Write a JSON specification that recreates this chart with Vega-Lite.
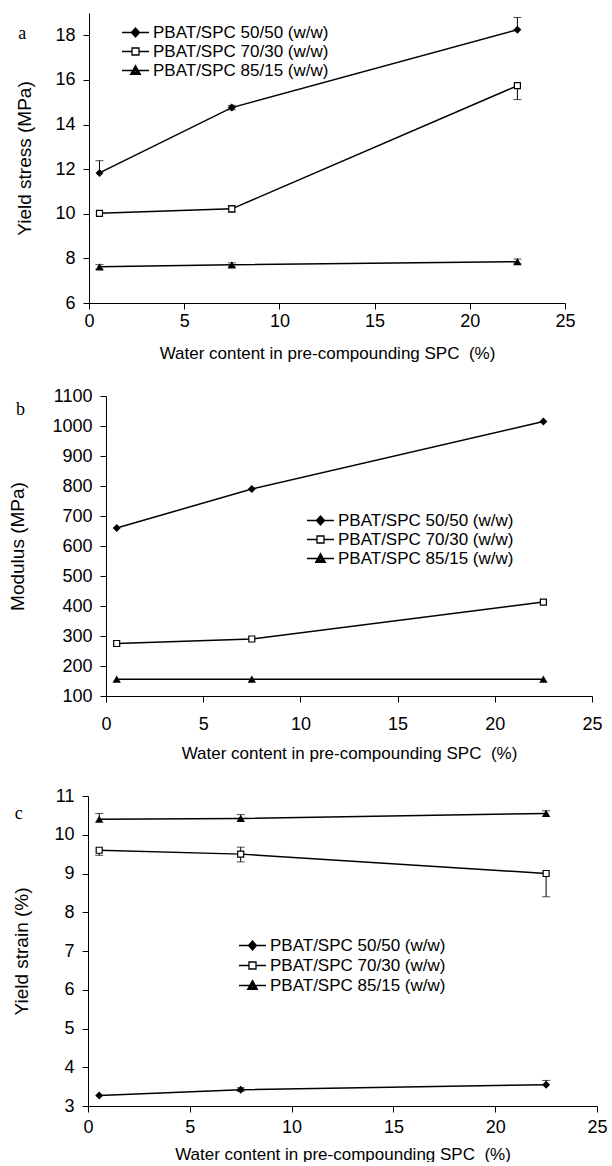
{
  "$schema": "https://vega.github.io/schema/vega-lite/v6.json",
  "padding": {"left": 0, "top": 13, "right": 0, "bottom": 0},
  "background": "white",
  "config": {
    "view": {"stroke": null},
    "font": "Liberation Sans",
    "axis": {
      "grid": false, "domainColor": "black", "tickColor": "black", "labelColor": "black", "titleColor": "black",
      "tickSize": 6, "domainWidth": 1, "tickWidth": 1, "labelFont": "Liberation Sans", "labelFontSize": 18,
      "titleFont": "Liberation Sans", "titleFontWeight": "normal", "labelOverlap": false, "labelFlush": false
    },
    "legend": {
      "orient": "none", "title": null, "padding": 0, "labelFont": "Liberation Sans", "labelFontSize": 17,
      "labelColor": "black", "labelLimit": 0, "symbolSize": 729, "symbolStrokeWidth": 1.3, "symbolOpacity": 1,
      "symbolStrokeColor": "black", "labelOffset": 3, "clipHeight": 17, "rowPadding": 1
    }
  },
  "datasets": {
    "pts": [
      {"panel": "a", "series": "PBAT/SPC 50/50 (w/w)", "x": 0.55, "y": 11.83},
      {"panel": "a", "series": "PBAT/SPC 50/50 (w/w)", "x": 7.5, "y": 14.76},
      {"panel": "a", "series": "PBAT/SPC 50/50 (w/w)", "x": 22.5, "y": 18.25},
      {"panel": "a", "series": "PBAT/SPC 70/30 (w/w)", "x": 0.55, "y": 10.02},
      {"panel": "a", "series": "PBAT/SPC 70/30 (w/w)", "x": 7.5, "y": 10.22},
      {"panel": "a", "series": "PBAT/SPC 70/30 (w/w)", "x": 22.5, "y": 15.74},
      {"panel": "a", "series": "PBAT/SPC 85/15 (w/w)", "x": 0.55, "y": 7.62},
      {"panel": "a", "series": "PBAT/SPC 85/15 (w/w)", "x": 7.5, "y": 7.71},
      {"panel": "a", "series": "PBAT/SPC 85/15 (w/w)", "x": 22.5, "y": 7.85},
      {"panel": "b", "series": "PBAT/SPC 50/50 (w/w)", "x": 0.55, "y": 660},
      {"panel": "b", "series": "PBAT/SPC 50/50 (w/w)", "x": 7.5, "y": 790},
      {"panel": "b", "series": "PBAT/SPC 50/50 (w/w)", "x": 22.5, "y": 1015},
      {"panel": "b", "series": "PBAT/SPC 70/30 (w/w)", "x": 0.55, "y": 275},
      {"panel": "b", "series": "PBAT/SPC 70/30 (w/w)", "x": 7.5, "y": 290},
      {"panel": "b", "series": "PBAT/SPC 70/30 (w/w)", "x": 22.5, "y": 413},
      {"panel": "b", "series": "PBAT/SPC 85/15 (w/w)", "x": 0.55, "y": 156},
      {"panel": "b", "series": "PBAT/SPC 85/15 (w/w)", "x": 7.5, "y": 156},
      {"panel": "b", "series": "PBAT/SPC 85/15 (w/w)", "x": 22.5, "y": 156},
      {"panel": "c", "series": "PBAT/SPC 50/50 (w/w)", "x": 0.55, "y": 3.27},
      {"panel": "c", "series": "PBAT/SPC 50/50 (w/w)", "x": 7.5, "y": 3.42},
      {"panel": "c", "series": "PBAT/SPC 50/50 (w/w)", "x": 22.5, "y": 3.55},
      {"panel": "c", "series": "PBAT/SPC 70/30 (w/w)", "x": 0.55, "y": 9.6},
      {"panel": "c", "series": "PBAT/SPC 70/30 (w/w)", "x": 7.5, "y": 9.5},
      {"panel": "c", "series": "PBAT/SPC 70/30 (w/w)", "x": 22.5, "y": 9.0},
      {"panel": "c", "series": "PBAT/SPC 85/15 (w/w)", "x": 0.55, "y": 10.4},
      {"panel": "c", "series": "PBAT/SPC 85/15 (w/w)", "x": 7.5, "y": 10.42},
      {"panel": "c", "series": "PBAT/SPC 85/15 (w/w)", "x": 22.5, "y": 10.55}
    ],
    "err": [
      {"panel": "a", "x": 0.55, "lo": 11.83, "hi": 12.38, "capLo": false, "capHi": true},
      {"panel": "a", "x": 7.5, "lo": 14.66, "hi": 14.86, "capLo": true, "capHi": true},
      {"panel": "a", "x": 22.5, "lo": 18.25, "hi": 18.8, "capLo": false, "capHi": true},
      {"panel": "a", "x": 7.5, "lo": 10.07, "hi": 10.37, "capLo": true, "capHi": true},
      {"panel": "a", "x": 22.5, "lo": 15.12, "hi": 15.74, "capLo": true, "capHi": false},
      {"panel": "a", "x": 0.55, "lo": 7.52, "hi": 7.72, "capLo": true, "capHi": true},
      {"panel": "a", "x": 7.5, "lo": 7.62, "hi": 7.8, "capLo": true, "capHi": true},
      {"panel": "a", "x": 22.5, "lo": 7.76, "hi": 7.97, "capLo": true, "capHi": true},
      {"panel": "c", "x": 0.55, "lo": 10.4, "hi": 10.55, "capLo": false, "capHi": true},
      {"panel": "c", "x": 7.5, "lo": 10.35, "hi": 10.52, "capLo": false, "capHi": true},
      {"panel": "c", "x": 22.5, "lo": 10.5, "hi": 10.62, "capLo": false, "capHi": true},
      {"panel": "c", "x": 0.55, "lo": 9.47, "hi": 9.6, "capLo": true, "capHi": false},
      {"panel": "c", "x": 7.5, "lo": 9.3, "hi": 9.68, "capLo": true, "capHi": true},
      {"panel": "c", "x": 22.5, "lo": 8.4, "hi": 9.0, "capLo": true, "capHi": false},
      {"panel": "c", "x": 7.5, "lo": 3.38, "hi": 3.47, "capLo": true, "capHi": true},
      {"panel": "c", "x": 22.5, "lo": 3.55, "hi": 3.66, "capLo": false, "capHi": true}
    ],
    "lab": [
      {"panel": "a", "x": -3.5, "y": 18.05, "t": "a"},
      {"panel": "b", "x": -4.4, "y": 1055, "t": "b"},
      {"panel": "c", "x": -3.4, "y": 10.54, "t": "c"}
    ],
    "spacer": [{"k": 1}]
  },
  "spacing": 26,
  "resolve": {"scale": {"shape": "independent"}, "legend": {"shape": "independent"}},
  "vconcat": [
    {
      "spacing": 0,
      "resolve": {"scale": {"shape": "independent"}, "legend": {"shape": "independent"}},
      "hconcat": [
        {"width": 15, "height": 1, "data": {"name": "spacer"}, "mark": {"type": "point", "opacity": 0, "size": 0.5}},
        {
          "width": 476, "height": 290,
          "encoding": {
            "x": {"field": "x", "type": "quantitative", "scale": {"domain": [0, 25], "nice": false},
                  "axis": {"values": [0, 5, 10, 15, 20, 25], "tickCount": 30, "title": "Water content in pre-compounding SPC\u00a0 (%)", "titleFontSize": 17, "labelPadding": 3, "titlePadding": 15, "labelOverlap": false, "labelFlush": false}}
          },
          "layer": [
            {"data": {"name": "err"}, "transform": [{"filter": "datum.panel === 'a'"}], "mark": {"type": "rule", "color": "black", "strokeWidth": 1},
             "encoding": {"y": {"field": "lo", "type": "quantitative", "scale": {"domain": [6, 19], "nice": false}, "axis": {"values": [6, 8, 10, 12, 14, 16, 18], "tickCount": 30, "format": "d", "title": "Yield stress (MPa)", "titleFontSize": 19, "labelPadding": 8, "titlePadding": 20.5, "labelOverlap": false}}, "y2": {"field": "hi"}}},
            {"data": {"name": "err"}, "transform": [{"filter": "datum.panel === 'a' && datum.capLo"}], "mark": {"type": "tick", "orient": "horizontal", "size": 8, "thickness": 1, "color": "black"},
             "encoding": {"y": {"field": "lo", "type": "quantitative"}}},
            {"data": {"name": "err"}, "transform": [{"filter": "datum.panel === 'a' && datum.capHi"}], "mark": {"type": "tick", "orient": "horizontal", "size": 8, "thickness": 1, "color": "black"},
             "encoding": {"y": {"field": "hi", "type": "quantitative"}}},
            {"data": {"name": "pts"}, "transform": [{"filter": "datum.panel === 'a'"}], "mark": {"type": "line", "color": "black", "strokeWidth": 1.5},
             "encoding": {"y": {"field": "y", "type": "quantitative"}, "detail": {"field": "series"}}},
            {"data": {"name": "pts"}, "transform": [{"filter": "datum.panel === 'a' && datum.series === 'PBAT/SPC 50/50 (w/w)'"}], "mark": {"type": "point", "shape": "diamond", "filled": true, "color": "black", "size": 64, "opacity": 1},
             "encoding": {"y": {"field": "y", "type": "quantitative"}}},
            {"data": {"name": "pts"}, "transform": [{"filter": "datum.panel === 'a' && datum.series === 'PBAT/SPC 70/30 (w/w)'"}], "mark": {"type": "point", "shape": "square", "fill": "white", "stroke": "black", "strokeWidth": 1.2, "size": 36, "opacity": 1},
             "encoding": {"y": {"field": "y", "type": "quantitative"}}},
            {"data": {"name": "pts"}, "transform": [{"filter": "datum.panel === 'a' && datum.series === 'PBAT/SPC 85/15 (w/w)'"}], "mark": {"type": "point", "shape": "triangle-up", "filled": true, "color": "black", "size": 70, "opacity": 1},
             "encoding": {"y": {"field": "y", "type": "quantitative"}}},
            {"data": {"name": "pts"}, "transform": [{"filter": "datum.panel === 'a'"}], "mark": {"type": "point", "filled": false, "color": "black", "strokeWidth": 1.3, "opacity": 0},
             "encoding": {"y": {"field": "y", "type": "quantitative"},
               "shape": {"field": "series", "type": "nominal", "scale": {"domain": ["PBAT/SPC 50/50 (w/w)", "PBAT/SPC 70/30 (w/w)", "PBAT/SPC 85/15 (w/w)"],
                 "range": ["M-1,0L1,0M-0.3,0L0,-0.34L0.3,0L0,0.34ZM-0.2,0L0,-0.227L0.2,0L0,0.227ZM-0.1,0L0,-0.113L0.1,0L0,0.113Z", "M-1,0L-0.26,0M0.26,0L1,0M-0.26,-0.26L0.26,-0.26L0.26,0.26L-0.26,0.26Z", "M-1,0L1,0M-0.36,0.29L0,-0.36L0.36,0.29ZM-0.238,0.216L0,-0.213L0.238,0.216ZM-0.119,0.145L0,-0.07L0.119,0.145Z"]},
                 "legend": {"legendX": 32, "legendY": 11}}}},
            {"data": {"name": "lab"}, "transform": [{"filter": "datum.panel === 'a'"}], "mark": {"type": "text", "font": "Liberation Serif", "fontSize": 18, "color": "black", "baseline": "middle", "align": "center"},
             "encoding": {"y": {"field": "y", "type": "quantitative"}, "text": {"field": "t"}}}
          ]
        }
      ]
    },
    {
      "spacing": 0,
      "resolve": {"scale": {"shape": "independent"}, "legend": {"shape": "independent"}},
      "hconcat": [
        {"width": 7.5, "height": 1, "data": {"name": "spacer"}, "mark": {"type": "point", "opacity": 0, "size": 0.5}},
        {
          "width": 486, "height": 300,
          "encoding": {
            "x": {"field": "x", "type": "quantitative", "scale": {"domain": [0, 25], "nice": false},
                  "axis": {"values": [0, 5, 10, 15, 20, 25], "tickCount": 30, "title": "Water content in pre-compounding SPC\u00a0 (%)", "titleFontSize": 17, "labelPadding": 13, "titlePadding": 12, "labelOverlap": false, "labelFlush": false}}
          },
          "layer": [
            {"data": {"name": "pts"}, "transform": [{"filter": "datum.panel === 'b'"}], "mark": {"type": "line", "color": "black", "strokeWidth": 1.5},
             "encoding": {"y": {"field": "y", "type": "quantitative", "scale": {"domain": [100, 1100], "nice": false}, "axis": {"values": [100, 200, 300, 400, 500, 600, 700, 800, 900, 1000, 1100], "tickCount": 30, "format": "d", "title": "Modulus (MPa)", "titleFontSize": 19, "labelPadding": 8, "titlePadding": 24.5, "labelOverlap": false}}, "detail": {"field": "series"}}},
            {"data": {"name": "pts"}, "transform": [{"filter": "datum.panel === 'b' && datum.series === 'PBAT/SPC 50/50 (w/w)'"}], "mark": {"type": "point", "shape": "diamond", "filled": true, "color": "black", "size": 64, "opacity": 1},
             "encoding": {"y": {"field": "y", "type": "quantitative"}}},
            {"data": {"name": "pts"}, "transform": [{"filter": "datum.panel === 'b' && datum.series === 'PBAT/SPC 70/30 (w/w)'"}], "mark": {"type": "point", "shape": "square", "fill": "white", "stroke": "black", "strokeWidth": 1.2, "size": 36, "opacity": 1},
             "encoding": {"y": {"field": "y", "type": "quantitative"}}},
            {"data": {"name": "pts"}, "transform": [{"filter": "datum.panel === 'b' && datum.series === 'PBAT/SPC 85/15 (w/w)'"}], "mark": {"type": "point", "shape": "triangle-up", "filled": true, "color": "black", "size": 70, "opacity": 1},
             "encoding": {"y": {"field": "y", "type": "quantitative"}}},
            {"data": {"name": "pts"}, "transform": [{"filter": "datum.panel === 'b'"}], "mark": {"type": "point", "filled": false, "color": "black", "strokeWidth": 1.3, "opacity": 0},
             "encoding": {"y": {"field": "y", "type": "quantitative"},
               "shape": {"field": "series", "type": "nominal", "scale": {"domain": ["PBAT/SPC 50/50 (w/w)", "PBAT/SPC 70/30 (w/w)", "PBAT/SPC 85/15 (w/w)"],
                 "range": ["M-1,0L1,0M-0.3,0L0,-0.34L0.3,0L0,0.34ZM-0.2,0L0,-0.227L0.2,0L0,0.227ZM-0.1,0L0,-0.113L0.1,0L0,0.113Z", "M-1,0L-0.26,0M0.26,0L1,0M-0.26,-0.26L0.26,-0.26L0.26,0.26L-0.26,0.26Z", "M-1,0L1,0M-0.36,0.29L0,-0.36L0.36,0.29ZM-0.238,0.216L0,-0.213L0.238,0.216ZM-0.119,0.145L0,-0.07L0.119,0.145Z"]},
                 "legend": {"legendX": 200, "legendY": 116}}}},
            {"data": {"name": "lab"}, "transform": [{"filter": "datum.panel === 'b'"}], "mark": {"type": "text", "font": "Liberation Serif", "fontSize": 18, "color": "black", "baseline": "middle", "align": "center"},
             "encoding": {"y": {"field": "y", "type": "quantitative"}, "text": {"field": "t"}}}
          ]
        }
      ]
    },
    {
      "spacing": 0,
      "resolve": {"scale": {"shape": "independent"}, "legend": {"shape": "independent"}},
      "hconcat": [
        {"width": 12, "height": 1, "data": {"name": "spacer"}, "mark": {"type": "point", "opacity": 0, "size": 0.5}},
        {
          "width": 509, "height": 310,
          "encoding": {
            "x": {"field": "x", "type": "quantitative", "scale": {"domain": [0, 25], "nice": false},
                  "axis": {"values": [0, 5, 10, 15, 20, 25], "tickCount": 30, "title": "Water content in pre-compounding SPC\u00a0 (%)", "titleFontSize": 17, "labelPadding": 6, "titlePadding": 10, "labelOverlap": false, "labelFlush": false}}
          },
          "layer": [
            {"data": {"name": "err"}, "transform": [{"filter": "datum.panel === 'c'"}], "mark": {"type": "rule", "color": "black", "strokeWidth": 1},
             "encoding": {"y": {"field": "lo", "type": "quantitative", "scale": {"domain": [3, 11], "nice": false}, "axis": {"values": [3, 4, 5, 6, 7, 8, 9, 10, 11], "tickCount": 30, "format": "d", "title": "Yield strain (%)", "titleFontSize": 19, "labelPadding": 8, "titlePadding": 22.5, "labelOverlap": false}}, "y2": {"field": "hi"}}},
            {"data": {"name": "err"}, "transform": [{"filter": "datum.panel === 'c' && datum.capLo"}], "mark": {"type": "tick", "orient": "horizontal", "size": 8, "thickness": 1, "color": "black"},
             "encoding": {"y": {"field": "lo", "type": "quantitative"}}},
            {"data": {"name": "err"}, "transform": [{"filter": "datum.panel === 'c' && datum.capHi"}], "mark": {"type": "tick", "orient": "horizontal", "size": 8, "thickness": 1, "color": "black"},
             "encoding": {"y": {"field": "hi", "type": "quantitative"}}},
            {"data": {"name": "pts"}, "transform": [{"filter": "datum.panel === 'c'"}], "mark": {"type": "line", "color": "black", "strokeWidth": 1.5},
             "encoding": {"y": {"field": "y", "type": "quantitative"}, "detail": {"field": "series"}}},
            {"data": {"name": "pts"}, "transform": [{"filter": "datum.panel === 'c' && datum.series === 'PBAT/SPC 50/50 (w/w)'"}], "mark": {"type": "point", "shape": "diamond", "filled": true, "color": "black", "size": 64, "opacity": 1},
             "encoding": {"y": {"field": "y", "type": "quantitative"}}},
            {"data": {"name": "pts"}, "transform": [{"filter": "datum.panel === 'c' && datum.series === 'PBAT/SPC 70/30 (w/w)'"}], "mark": {"type": "point", "shape": "square", "fill": "white", "stroke": "black", "strokeWidth": 1.2, "size": 36, "opacity": 1},
             "encoding": {"y": {"field": "y", "type": "quantitative"}}},
            {"data": {"name": "pts"}, "transform": [{"filter": "datum.panel === 'c' && datum.series === 'PBAT/SPC 85/15 (w/w)'"}], "mark": {"type": "point", "shape": "triangle-up", "filled": true, "color": "black", "size": 70, "opacity": 1},
             "encoding": {"y": {"field": "y", "type": "quantitative"}}},
            {"data": {"name": "pts"}, "transform": [{"filter": "datum.panel === 'c'"}], "mark": {"type": "point", "filled": false, "color": "black", "strokeWidth": 1.3, "opacity": 0},
             "encoding": {"y": {"field": "y", "type": "quantitative"},
               "shape": {"field": "series", "type": "nominal", "scale": {"domain": ["PBAT/SPC 50/50 (w/w)", "PBAT/SPC 70/30 (w/w)", "PBAT/SPC 85/15 (w/w)"],
                 "range": ["M-1,0L1,0M-0.3,0L0,-0.34L0.3,0L0,0.34ZM-0.2,0L0,-0.227L0.2,0L0,0.227ZM-0.1,0L0,-0.113L0.1,0L0,0.113Z", "M-1,0L-0.26,0M0.26,0L1,0M-0.26,-0.26L0.26,-0.26L0.26,0.26L-0.26,0.26Z", "M-1,0L1,0M-0.36,0.29L0,-0.36L0.36,0.29ZM-0.238,0.216L0,-0.213L0.238,0.216ZM-0.119,0.145L0,-0.07L0.119,0.145Z"]},
                 "legend": {"legendX": 150, "legendY": 140, "clipHeight": 19}}}},
            {"data": {"name": "lab"}, "transform": [{"filter": "datum.panel === 'c'"}], "mark": {"type": "text", "font": "Liberation Serif", "fontSize": 18, "color": "black", "baseline": "middle", "align": "center"},
             "encoding": {"y": {"field": "y", "type": "quantitative"}, "text": {"field": "t"}}}
          ]
        }
      ]
    }
  ]
}
